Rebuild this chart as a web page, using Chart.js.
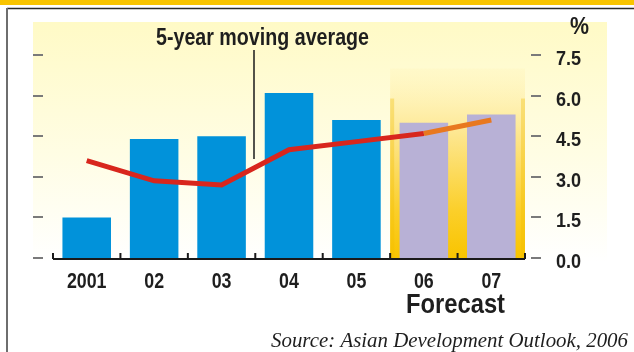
<!DOCTYPE html>
<html>
<head>
<meta charset="utf-8">
<script src="https://cdn.jsdelivr.net/npm/chart.js@4/dist/chart.umd.min.js"></script>
<style>
  html, body { margin: 0; padding: 0; background: #fff; }
  #growthChart { display: block; }
</style>
</head>
<body>
<canvas id="growthChart" width="634" height="352"></canvas>
<script>
// GDP growth, %, with the 5-year moving average
const years = ['2001', '02', '03', '04', '05', '06', '07'];
const growth = [1.5, 4.4, 4.5, 6.1, 5.1, 5.0, 5.3];
const movingAvg = [3.6, 2.85, 2.7, 4.0, 4.3, 4.6, 5.1];
const forecastStart = 5; // index of first forecast year

const BLUE = '#0192da';
const LAVENDER = '#b8b1d6';
const RED = '#d8261d';
const ORANGE = '#e8781f';
const GOLD = '#f9c400';
const INK = '#1e1e1e';
const SANS = '"Liberation Sans", Arial, sans-serif';

// squeezed text, to get a condensed bold look from a regular face
function squeezed(ctx, text, x, y, font, sx, align) {
    ctx.save();
    ctx.font = font;
    const w = ctx.measureText(text).width * sx;
    let left = x;
    if (align === 'center') left = x - w / 2;
    if (align === 'right') left = x - w;
    ctx.translate(left, y);
    ctx.scale(sx, 1);
    ctx.textAlign = 'left';
    ctx.textBaseline = 'alphabetic';
    ctx.fillText(text, 0, 0);
    ctx.restore();
}

// same, stretched to an exact width
function fitted(ctx, text, left, y, font, width) {
    ctx.save();
    ctx.font = font;
    const sx = width / ctx.measureText(text).width;
    ctx.restore();
    squeezed(ctx, text, left, y, font, sx, 'left');
}

const backdrop = {
    id: 'backdrop',
    beforeDraw(chart) {
        const ctx = chart.ctx;
        const x = chart.scales.x;
        const y = chart.scales.y;
        ctx.save();
        ctx.fillStyle = GOLD;
        ctx.fillRect(0, 0, chart.width, 5);

        // pale panel behind the plot
        let pale = ctx.createLinearGradient(0, 22, 0, 262);
        pale.addColorStop(0, '#fffac6');
        pale.addColorStop(0.55, '#fffde4');
        pale.addColorStop(1, '#ffffff');
        ctx.fillStyle = pale;
        ctx.fillRect(33, 22, 574, 240);

        // forecast band
        const half = (x.getPixelForValue(1) - x.getPixelForValue(0)) / 2;
        const left = x.getPixelForValue(forecastStart) - half;
        const right = x.getPixelForValue(years.length - 1) + half;
        const top = y.getPixelForValue(7.0);
        let band = ctx.createLinearGradient(0, top, 0, y.bottom);
        band.addColorStop(0, 'rgba(255,240,170,0.2)');
        band.addColorStop(0.35, '#fde68e');
        band.addColorStop(0.75, '#fbcf2a');
        band.addColorStop(1, '#f9c400');
        ctx.fillStyle = band;
        ctx.fillRect(left, top, right - left, y.bottom - top);
        ctx.fillStyle = 'rgba(240,190,0,0.35)';
        ctx.fillRect(left, top + 30, 4, y.bottom - top - 30);
        ctx.fillRect(right - 4, top + 30, 4, y.bottom - top - 30);

        // frame
        ctx.strokeStyle = '#2a2a2a';
        ctx.lineWidth = 1.5;
        ctx.beginPath();
        ctx.moveTo(chart.width, 8.5);
        ctx.lineTo(7, 8.5);
        ctx.stroke();
        ctx.strokeStyle = '#6e6e6e';
        ctx.lineWidth = 2;
        ctx.beginPath();
        ctx.moveTo(7, 8);
        ctx.lineTo(7, chart.height);
        ctx.stroke();
        ctx.restore();
    },
    afterDatasetsDraw(chart) {
        const ctx = chart.ctx;
        const x = chart.scales.x;
        const y = chart.scales.y;
        ctx.save();
        ctx.fillStyle = INK;

        // value axis: dashes on both sides, labels on the right
        ctx.strokeStyle = '#7a7a7a';
        ctx.lineWidth = 2;
        y.ticks.forEach(t => {
            const py = Math.round(y.getPixelForValue(t.value));
            ctx.beginPath();
            ctx.moveTo(33, py); ctx.lineTo(43, py);
            ctx.moveTo(531, py); ctx.lineTo(541, py);
            ctx.stroke();
            squeezed(ctx, t.value.toFixed(1), 556, py + 9.5, 'bold 21px ' + SANS, 0.86, 'left');
        });

        // category axis line with ticks pointing up
        const half = (x.getPixelForValue(1) - x.getPixelForValue(0)) / 2;
        ctx.strokeStyle = '#1a1a1a';
        ctx.lineWidth = 2;
        ctx.beginPath();
        ctx.moveTo(x.left, y.bottom + 1); ctx.lineTo(x.right, y.bottom + 1);
        for (let i = 0; i <= years.length; i++) {
            const px = x.getPixelForValue(0) - half + i * half * 2;
            ctx.moveTo(px, y.bottom + 1); ctx.lineTo(px, y.bottom - 5);
        }
        ctx.stroke();
        x.getLabels().forEach((lab, i) => {
            squeezed(ctx, lab, x.getPixelForValue(i), 288, 'bold 22px ' + SANS, 0.81, 'center');
        });

        // leader line for the moving average
        ctx.lineWidth = 1.5;
        ctx.beginPath();
        ctx.moveTo(254, 50); ctx.lineTo(254, 159);
        ctx.stroke();

        fitted(ctx, '5-year moving average', 156, 45, 'bold 23px ' + SANS, 213);
        fitted(ctx, '%', 570, 34, 'bold 24px ' + SANS, 19);
        fitted(ctx, 'Forecast', 406, 313, 'bold 28px ' + SANS, 99);
        fitted(ctx, 'Source: Asian Development Outlook, 2006', 271, 347,
            'italic 20px "Liberation Serif", "DejaVu Serif", serif', 357);
        ctx.restore();
    }
};

const growthCanvas = document.getElementById('growthChart');
const growthChart = new Chart(growthCanvas, {
    data: {
        labels: years,
        datasets: [{
            type: 'line',
            data: movingAvg,
            order: 0,
            borderWidth: 5,
            pointRadius: 0,
            tension: 0,
            borderColor: RED,
            segment: {
                borderColor: c => c.p0DataIndex >= forecastStart ? ORANGE : RED
            }
        }, {
            type: 'bar',
            data: growth,
            order: 1,
            backgroundColor: growth.map((v, i) => i >= forecastStart ? LAVENDER : BLUE),
            categoryPercentage: 1,
            barPercentage: 0.72
        }]
    },
    options: {
        responsive: false,
        animation: false,
        devicePixelRatio: 1,
        layout: { padding: { top: 55, left: 53, right: 0, bottom: 0 } },
        plugins: {
            legend: { display: false },
            tooltip: { enabled: false }
        },
        scales: {
            x: {
                offset: true,
                grid: { display: false, drawTicks: false },
                border: { display: false },
                ticks: { display: false },
                afterFit: s => { s.height = 94; }
            },
            y: {
                position: 'right',
                min: 0,
                max: 7.5,
                grid: { display: false, drawTicks: false },
                border: { display: false },
                ticks: { display: false, stepSize: 1.5 },
                afterFit: s => { s.width = 109; }
            }
        }
    },
    plugins: [backdrop]
});
</script>
</body>
</html>
